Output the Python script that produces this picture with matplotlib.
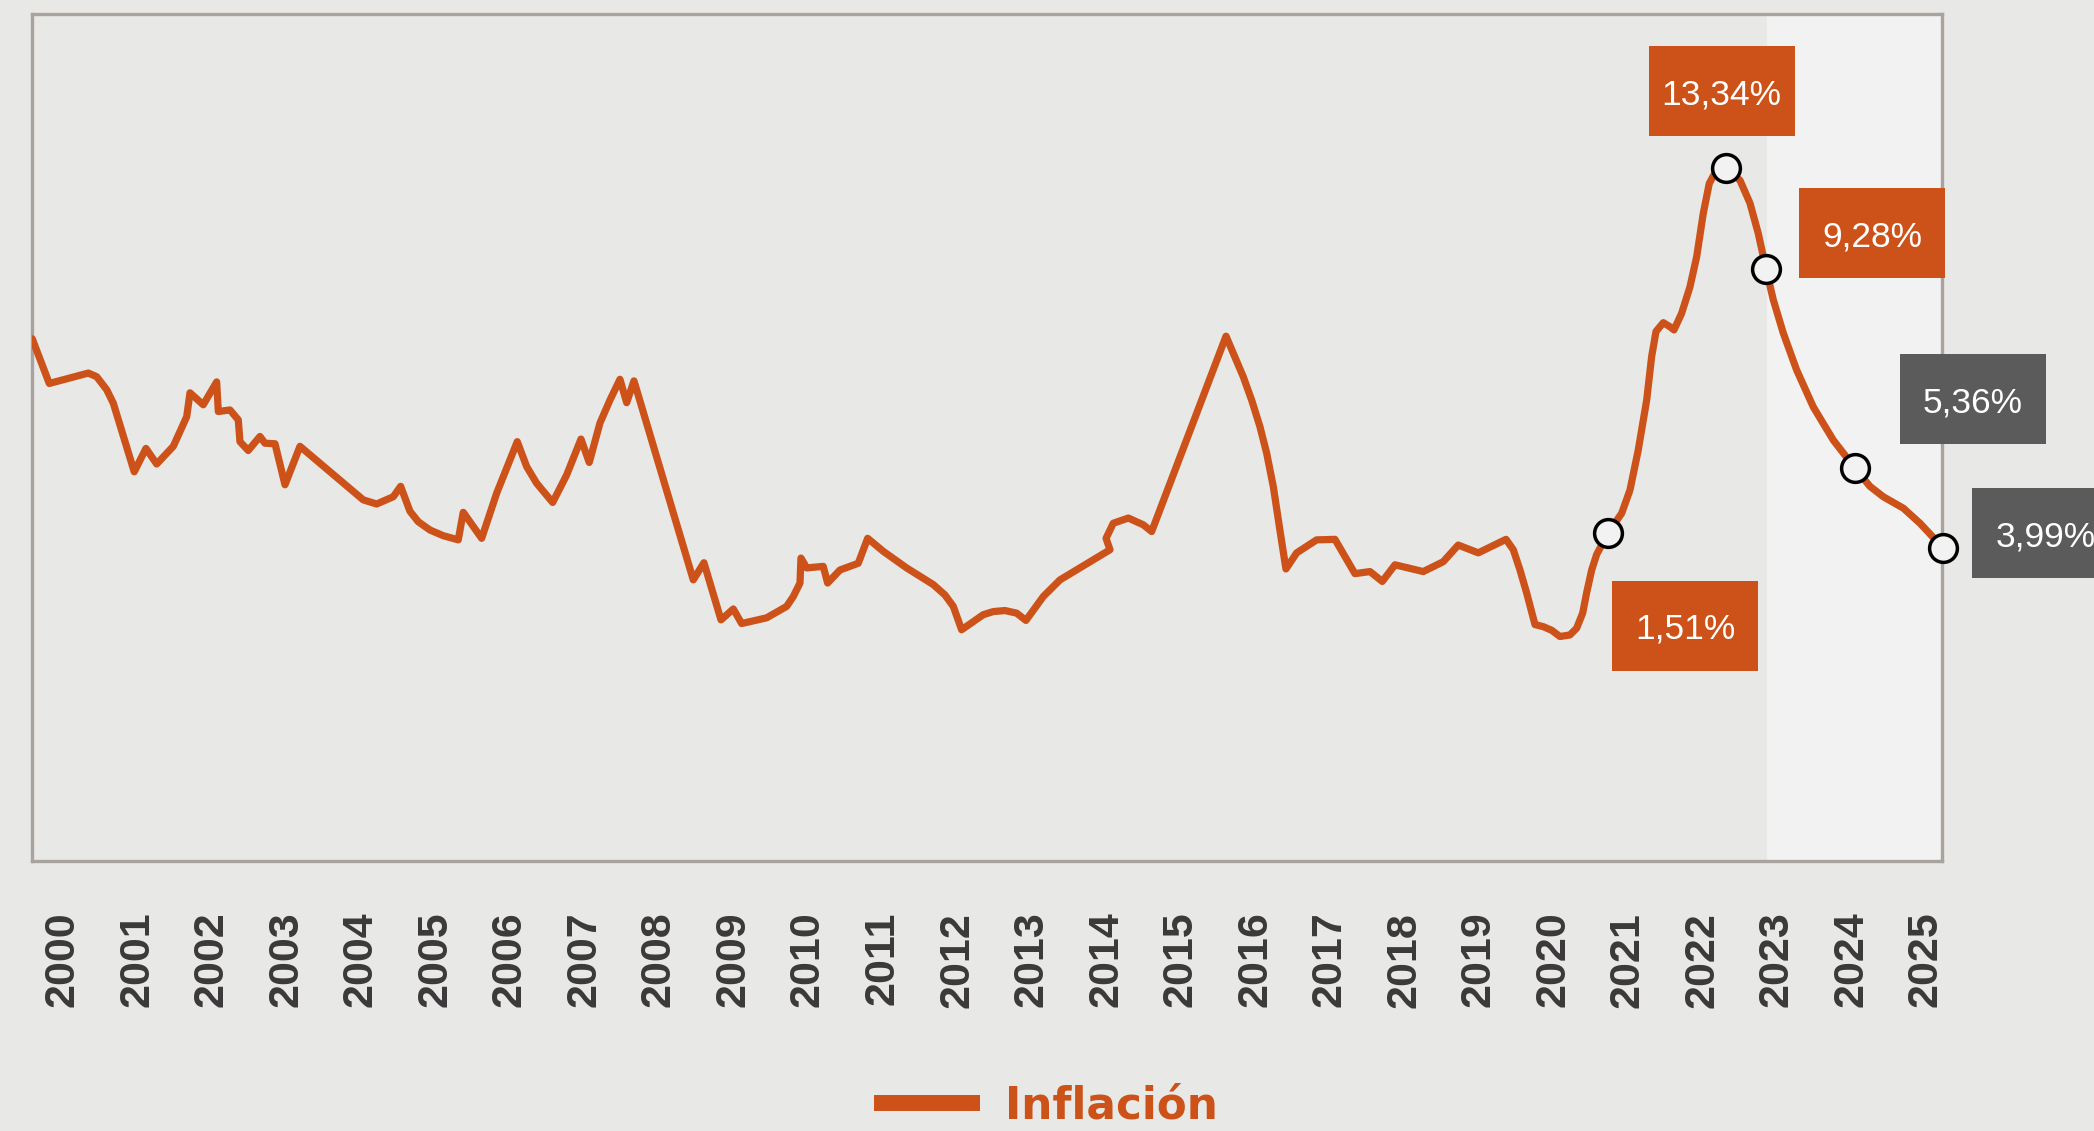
import matplotlib
matplotlib.use("Agg")
import matplotlib.pyplot as plt
from matplotlib.lines import Line2D
from matplotlib.patches import Rectangle
from matplotlib.transforms import ScaledTranslation

# serie de inflacion (eje en anos decimales)
fechas = [1999.59, 1999.819, 2000.342, 2000.455, 2000.589, 2000.678, 2000.959, 2001.116, 2001.26, 2001.483,
          2001.663, 2001.707, 2001.885, 2002.065, 2002.087, 2002.244, 2002.355, 2002.378, 2002.489, 2002.646,
          2002.713, 2002.848, 2002.982, 2003.183, 2004.032, 2004.212, 2004.435, 2004.534, 2004.659, 2004.77,
          2004.927, 2005.106, 2005.307, 2005.374, 2005.621, 2005.823, 2006.099, 2006.225, 2006.359, 2006.574,
          2006.762, 2006.954, 2007.065, 2007.209, 2007.343, 2007.477, 2007.567, 2007.665, 2008.461, 2008.604,
          2008.833, 2008.998, 2009.11, 2009.446, 2009.714, 2009.803, 2009.893, 2009.906, 2009.983, 2010.205,
          2010.264, 2010.429, 2010.675, 2010.801, 2011.01, 2011.324, 2011.681, 2011.838, 2011.95, 2012.062,
          2012.352, 2012.486, 2012.643, 2012.8, 2012.925, 2013.158, 2013.382, 2014.053, 2014.0, 2014.097,
          2014.299, 2014.5, 2014.612, 2015.61, 2015.841, 2015.954, 2016.065, 2016.155, 2016.244, 2016.333,
          2016.414, 2016.558, 2016.826, 2017.072, 2017.34, 2017.542, 2017.707, 2017.877, 2018.257, 2018.525,
          2018.726, 2018.995, 2019.367, 2019.465, 2019.555, 2019.644, 2019.756, 2019.867, 2019.98, 2020.091,
          2020.225, 2020.315, 2020.396, 2020.449, 2020.517, 2020.584, 2020.739, 2020.919, 2021.031, 2021.142,
          2021.255, 2021.322, 2021.38, 2021.478, 2021.568, 2021.621, 2021.724, 2021.836, 2021.926, 2022.014,
          2022.095, 2022.194, 2022.316, 2022.507, 2022.641, 2022.752, 2022.857, 2022.954, 2023.088, 2023.267,
          2023.49, 2023.759, 2024.051, 2024.251, 2024.43, 2024.699, 2024.922, 2025.236]
inflacion = [10.05, 9.19, 9.39, 9.32, 9.07, 8.81, 7.49, 7.94, 7.64, 7.98,
             8.55, 9.01, 8.78, 9.22, 8.65, 8.68, 8.49, 8.07, 7.90, 8.17,
             8.04, 8.03, 7.24, 7.98, 6.95, 6.87, 7.01, 7.21, 6.73, 6.53,
             6.37, 6.26, 6.18, 6.71, 6.21, 7.08, 8.07, 7.59, 7.27, 6.90,
             7.43, 8.12, 7.67, 8.43, 8.87, 9.27, 8.82, 9.24, 5.41, 5.74,
             4.64, 4.85, 4.57, 4.68, 4.90, 5.09, 5.35, 5.83, 5.64, 5.67,
             5.35, 5.60, 5.73, 6.21, 5.96, 5.64, 5.32, 5.12, 4.90, 4.45,
             4.74, 4.80, 4.82, 4.77, 4.63, 5.09, 5.41, 5.99, 6.21, 6.50,
             6.60, 6.47, 6.34, 10.10, 9.32, 8.87, 8.36, 7.85, 7.21, 6.37,
             5.62, 5.93, 6.18, 6.19, 5.53, 5.57, 5.38, 5.70, 5.57, 5.76,
             6.08, 5.93, 6.19, 5.99, 5.60, 5.16, 4.55, 4.51, 4.44, 4.32,
             4.35, 4.48, 4.77, 5.16, 5.60, 5.90, 6.32, 6.69, 7.14, 7.91,
             8.87, 9.71, 10.19, 10.36, 10.28, 10.22, 10.54, 11.05, 11.63, 12.46,
             13.04, 13.30, 13.33, 13.10, 12.66, 12.08, 11.39, 10.80, 10.16, 9.45,
             8.74, 8.10, 7.56, 7.21, 7.01, 6.79, 6.50, 6.02]

# puntos destacados
puntos_x = [2020.739, 2022.316, 2022.857, 2024.051, 2025.236]
puntos_y = [6.32, 13.33, 11.39, 7.56, 6.02]
etiquetas = ["1,51%", "13,34%", "9,28%", "5,36%", "3,99%"]
proyeccion = [False, False, False, True, True]

anios = list(range(2000, 2026))
inicio_proyeccion = 2022.87

naranja = "#cc5219"
gris_caja = "#5b5b5b"
fondo = "#e8e8e6"

fig = plt.figure(figsize=(20.94, 11.31), dpi=100, facecolor=fondo)
ax = fig.add_axes([32 / 2094, 1 - 861 / 1131, (1942 - 32) / 2094, (861 - 14) / 1131])
ax.set_facecolor(fondo)

ax.set_xlim(1999.587, 2025.218)
ax.set_ylim(0, 16.3)
ax.axvspan(inicio_proyeccion, 2025.218, color="#f2f2f2", zorder=0, lw=0)

ax.plot(fechas, inflacion, color=naranja, lw=5.2, solid_joinstyle="round",
        solid_capstyle="round", zorder=3)
ax.plot(puntos_x, puntos_y, "o", ms=20, mew=2.5, mfc="#f2f2f2", mec="black",
        zorder=4, clip_on=False)

# cajas de etiqueta (desplazamiento en pixeles respecto al punto)
desplaz = [(77, -93), (-4, 77), (106, 36), (118, 69), (102, 15)]
w, h = 146, 90
for x, y, txt, proy, (dx, dy) in zip(puntos_x, puntos_y, etiquetas, proyeccion, desplaz):
    tr = ScaledTranslation(x, y, ax.transData)
    ax.add_patch(Rectangle((dx - w / 2, dy - h / 2), w, h, transform=tr,
                           facecolor=gris_caja if proy else naranja, lw=0,
                           zorder=5, clip_on=False))
    ax.text(dx, dy, txt, transform=tr, ha="center", va="center_baseline",
            color="white", fontsize=25.5, family="Liberation Sans", zorder=6,
            clip_on=False)

for sp in ax.spines.values():
    sp.set_color("#a8a39e")
    sp.set_linewidth(2.4)

ax.set_yticks([])
ax.set_xticks(anios)
ax.set_xticklabels([str(a) for a in anios], rotation=90, fontsize=31,
                   fontweight="bold", family="Liberation Sans", color="#3a3838")
ax.tick_params(axis="x", length=0, pad=36.5)

handle = Line2D([], [], color=naranja, lw=11.5, solid_capstyle="butt")
leg = ax.legend([handle], ["Inflación"], loc="center",
                bbox_to_anchor=(1046 / 2094, 1 - 1106 / 1131),
                bbox_transform=fig.transFigure, frameon=False,
                handlelength=2.42, handletextpad=0.57, borderpad=0,
                prop={"family": "DejaVu Sans", "weight": "bold", "size": 31.5})
for t in leg.get_texts():
    t.set_color(naranja)

fig.savefig("out.png", dpi=100, facecolor=fondo)
